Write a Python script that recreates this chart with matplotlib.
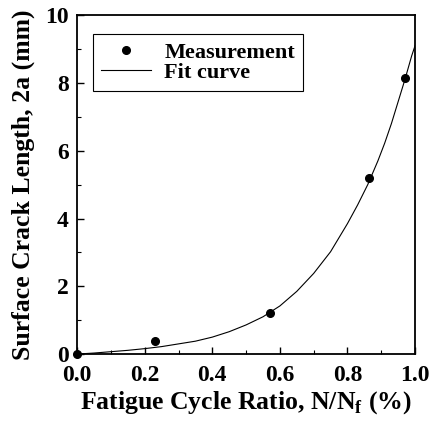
import matplotlib
matplotlib.use('Agg')
import matplotlib.pyplot as plt
from matplotlib.ticker import MultipleLocator

# measured crack length vs fatigue cycle ratio
meas_x = [0.0, 0.23, 0.57, 0.865, 0.97]
meas_y = [0.0, 0.38, 1.22, 5.2, 8.15]

# fit curve
fit_x = [0.0, 0.05, 0.1, 0.15, 0.2, 0.25, 0.3, 0.35, 0.4, 0.45, 0.5, 0.55, 0.6,
         0.65, 0.7, 0.75, 0.8, 0.83, 0.86, 0.89, 0.91, 0.93, 0.95, 0.97, 0.99, 1.0]
fit_y = [0.0, 0.03, 0.07, 0.11, 0.16, 0.22, 0.3, 0.38, 0.5, 0.66, 0.86, 1.1, 1.42,
         1.85, 2.38, 3.02, 3.85, 4.4, 5.0, 5.7, 6.22, 6.8, 7.45, 8.1, 8.8, 9.1]

x_ticks = [0.0, 0.2, 0.4, 0.6, 0.8, 1.0]
y_ticks = [0, 2, 4, 6, 8, 10]

plt.rcParams['font.family'] = 'Liberation Serif'
plt.rcParams['font.weight'] = 'bold'
plt.rcParams['mathtext.fontset'] = 'custom'
plt.rcParams['mathtext.rm'] = 'Liberation Serif:bold'
plt.rcParams['mathtext.bf'] = 'Liberation Serif:bold'

fig = plt.figure(figsize=(4.31, 4.22), dpi=100)
ax = fig.add_axes([0.179, 0.161, 0.784, 0.803])

ax.plot(fit_x, fit_y, color='black', lw=0.8, label='Fit curve')
ax.plot(meas_x, meas_y, 'o', color='black', ms=5.5, label='Measurement', clip_on=False, zorder=5)

ax.set_xlim(0, 1.0)
ax.set_ylim(0, 10)
ax.set_xticks(x_ticks)
ax.set_yticks(y_ticks)
ax.set_xticklabels(['%.1f' % v for v in x_ticks])
ax.set_yticklabels([str(v) for v in y_ticks])
ax.xaxis.set_minor_locator(MultipleLocator(0.1))
ax.yaxis.set_minor_locator(MultipleLocator(1))
ax.tick_params(which='major', direction='in', length=5, width=1, labelsize=17, pad=8)
ax.tick_params(which='minor', direction='in', length=3, width=0.8)
ax.tick_params(axis='y', pad=6)
for s in ax.spines.values():
    s.set_linewidth(1.3)

ax.set_xlabel(r'Fatigue Cycle Ratio, N/N$_{\mathrm{f}}$ (%)', fontsize=18.5, fontweight='bold', labelpad=2)
ax.set_ylabel('Surface Crack Length, 2a (mm)', fontsize=18.5, fontweight='bold', labelpad=7)

h, l = ax.get_legend_handles_labels()
leg = ax.legend([h[1], h[0]], [l[1], l[0]], loc='upper left', bbox_to_anchor=(0.047, 0.944),
                borderaxespad=0, fancybox=False, edgecolor='black', framealpha=1,
                fontsize=16, handlelength=2.25, numpoints=1, borderpad=0.35,
                labelspacing=0.0, handletextpad=0.6)
leg.get_frame().set_linewidth(0.8)

fig.savefig('out.png', dpi=100)
